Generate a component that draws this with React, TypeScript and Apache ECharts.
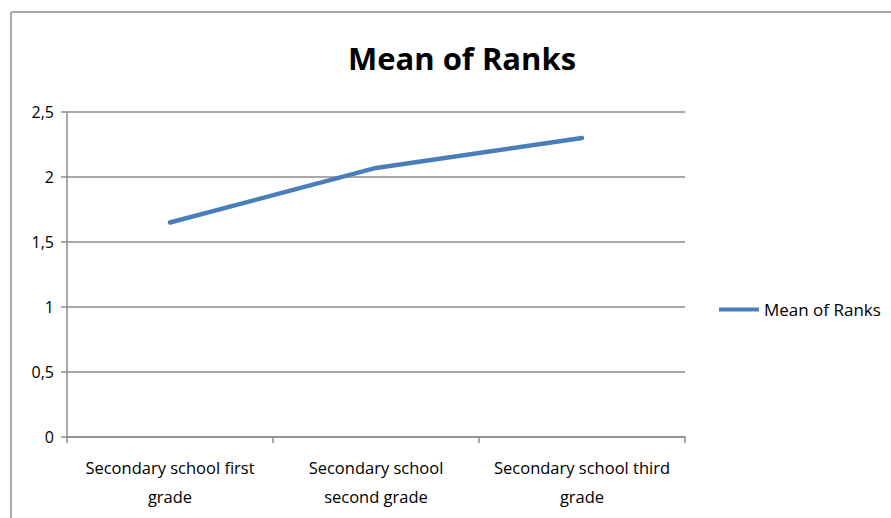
import React, { useEffect, useRef } from "react";
import * as echarts from "echarts";

const categories = [
  "Secondary school first\ngrade",
  "Secondary school\nsecond grade",
  "Secondary school third\ngrade",
];
const meanOfRanks = [1.65, 2.07, 2.3];
const seriesName = "Mean of Ranks";
const titleText = "Mean of Ranks";

export default function App() {
  const ref = useRef<HTMLDivElement>(null);
  useEffect(() => {
    document.body.style.margin = "0";
    const chart = echarts.init(ref.current!, null, { renderer: "svg" });
    const font = "'Open Sans', sans-serif";
    chart.setOption({
      animation: false,
      backgroundColor: "#ffffff",
      title: {
        text: titleText,
        left: 457,
        top: 37,
        textAlign: "center",
        textStyle: { fontSize: 31, fontWeight: "bold", color: "#000", fontFamily: font },
      },
      legend: {
        data: [{ name: seriesName, icon: "rect" }],
        left: 714,
        top: 296,
        itemWidth: 40,
        itemHeight: 4,
        itemGap: 4,
        textStyle: { fontSize: 17, color: "#000", fontFamily: font },
      },
      grid: { left: 67, right: 206, top: 112, bottom: 81, containLabel: false },
      xAxis: {
        type: "category",
        data: categories,
        boundaryGap: true,
        axisLine: { lineStyle: { color: "#8c8c8c", width: 1.5 } },
        axisTick: { show: true, interval: 0, length: 6, lineStyle: { color: "#8c8c8c", width: 1.5 } },
        axisLabel: { interval: 0, fontSize: 16.5, color: "#000", fontFamily: font, lineHeight: 29, margin: 16 },
      },
      yAxis: {
        type: "value",
        min: 0,
        max: 2.5,
        interval: 0.5,
        axisLine: { show: true, lineStyle: { color: "#8c8c8c", width: 1.5 } },
        axisTick: { show: true, length: 6, lineStyle: { color: "#8c8c8c", width: 1.5 } },
        splitLine: { lineStyle: { color: "#8c8c8c", width: 1.5 } },
        axisLabel: {
          fontSize: 16,
          color: "#000",
          fontFamily: font,
          margin: 13,
          formatter: (v: number) => String(v).replace(".", ","),
        },
      },
      graphic: [
        { type: "line", shape: { x1: 11, y1: 12, x2: 891, y2: 12 }, style: { stroke: "#8c8c8c", lineWidth: 1.5 } },
        { type: "line", shape: { x1: 11, y1: 12, x2: 11, y2: 518 }, style: { stroke: "#8c8c8c", lineWidth: 1.5 } },
      ],
      series: [
        {
          name: seriesName,
          type: "line",
          data: meanOfRanks,
          showSymbol: false,
          symbol: "none",
          lineStyle: { color: "#4a7ebb", width: 4.5, cap: "round" },
          itemStyle: { color: "#4a7ebb" },
        },
      ],
    });
    return () => chart.dispose();
  }, []);
  return <div ref={ref} style={{ width: 891, height: 518 }} />;
}
